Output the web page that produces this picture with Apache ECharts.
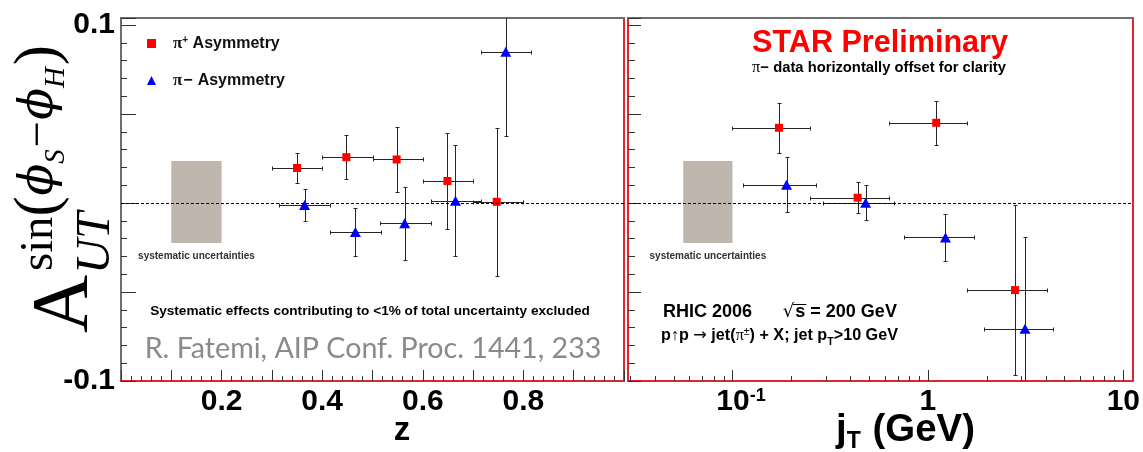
<!DOCTYPE html>
<html><head><meta charset="utf-8">
<script src="https://cdn.jsdelivr.net/npm/echarts@6/dist/echarts.min.js"></script>
<style>html,body{margin:0;padding:0;background:#fff}#c{width:1143px;height:452px}</style>
</head><body><div id="c"></div>
<script>
// ---------------- data ----------------
const zPlus    = [0.350, 0.448, 0.548, 0.649, 0.747];
const zPlusLo  = [0.300, 0.400, 0.500, 0.600, 0.700];
const zPlusHi  = [0.400, 0.500, 0.600, 0.700, 0.800];
const aPlusZ   = [0.0197, 0.0258, 0.0245, 0.0124, 0.0007];
const ePlusZ   = [0.0086, 0.0123, 0.0184, 0.0272, 0.0416];

const zMinus   = [0.365, 0.466, 0.564, 0.665, 0.765];
const zMinusLo = [0.315, 0.415, 0.515, 0.616, 0.715];
const zMinusHi = [0.415, 0.516, 0.616, 0.715, 0.815];
const aMinusZ  = [-0.0011, -0.0163, -0.0114, 0.0013, 0.0850];
const eMinusZ  = [0.0092, 0.0137, 0.0206, 0.0312, 0.0474];

const jPlus    = [0.173, 0.437, 1.103, 2.79];
const jPlusLo  = [0.099, 0.248, 0.631, 1.58];
const jPlusHi  = [0.248, 0.631, 1.59, 4.07];
const aPlusJ   = [0.0423, 0.0030, 0.0451, -0.0489];
const ePlusJ   = [0.0142, 0.0086, 0.0123, 0.0476];

const jMinus   = [0.189, 0.480, 1.23, 3.14];
const jMinusLo = [0.113, 0.290, 0.752, 1.94];
const jMinusHi = [0.266, 0.671, 1.72, 4.36];
const aMinusJ  = [0.0103, 0.0002, -0.0193, -0.0706];
const eMinusJ  = [0.0156, 0.0098, 0.0133, 0.0513];

const sysBoxZ = [0.1, 0.2];
const sysBoxJ = [0.056, 0.1];
const sysBoxA = [-0.0225, 0.0236];

const aRange  = [-0.1, 0.104];
const zRange  = [0, 1];
const jtRange = [0.0292, 11.15];
const aTickLabels = [-0.1, 0.1];
const zTickLabels = [0.2, 0.4, 0.6, 0.8];
const jtMajorTicks = [0.1, 1, 10];
const jtMinorTicks = [0.03,0.04,0.05,0.06,0.07,0.08,0.09,0.2,0.3,0.4,0.5,0.6,0.7,0.8,0.9,2,3,4,5,6,7,8,9];
const seriesNames = ['π+ Asymmetry', 'π− Asymmetry'];

// ---------------- helpers ----------------
const SANS = '"Liberation Sans", Arial, sans-serif';
const SERIF = '"Liberation Serif", "Times New Roman", serif';
const GSERIF = '"DejaVu Serif", "Liberation Serif", serif';
const mctx = document.createElement('canvas').getContext('2d');
function tw(str, size, fam, weight, style) {
  mctx.font = (style || 'normal') + ' ' + (weight || 'normal') + ' ' + size + 'px ' + fam;
  return mctx.measureText(str).width;
}
function fit(str, target, fam, weight, style) { return 100 * target / tw(str, 100, fam, weight, style); }
// lay out pieces along a baseline; returns children
function seq(pieces, x0, base, targetW, fill) {
  let sum = 0;
  pieces.forEach(p => { sum += (p.rs || 1) * tw(p.t, 1, p.fam || SANS, p.w || 'normal', p.it ? 'italic' : 'normal') + (p.gap || 0) / 100; });
  const F = targetW / sum;
  let x = x0; const out = [];
  pieces.forEach(p => {
    const s = (p.rs || 1) * F;
    const w = s * tw(p.t, 1, p.fam || SANS, p.w || 'normal', p.it ? 'italic' : 'normal');
    out.push({type: 'text', x: x, y: base + (p.dy || 0) * F - 0.34 * s, silent: true, _w: w, _s: s,
      style: {text: p.t, fontSize: s, fontFamily: p.fam || SANS, fontWeight: p.w || 'normal',
        fontStyle: p.it ? 'italic' : 'normal', fill: p.fill || fill || '#000', align: 'left', verticalAlign: 'middle'}});
    x += w + (p.gap || 0) * F / 100;
  });
  return out;
}
function zip(x, lo, hi, y, e) { return x.map((v, i) => [v, y[i], lo[i], hi[i], y[i] - e[i], y[i] + e[i]]); }
function errRender(params, api) {
  const x = api.value(0), y = api.value(1);
  const c = api.coord([x, y]);
  const l = api.coord([api.value(2), y]), r = api.coord([api.value(3), y]);
  const b = api.coord([x, api.value(4)]), t = api.coord([x, api.value(5)]);
  const cx = Math.round(c[0]) + 0.5, cy = Math.round(c[1]) + 0.5;
  const lx = Math.round(l[0]) + 0.5, rx = Math.round(r[0]) + 0.5;
  const ty = Math.round(t[1]) + 0.5, by = Math.round(b[1]) + 0.5;
  const st = {stroke: '#262626', lineWidth: 1};
  const k = 2;
  const L = (x1, y1, x2, y2) => ({type: 'line', shape: {x1, y1, x2, y2}, style: st});
  return {type: 'group', children: [
    L(lx, cy, rx, cy), L(cx, ty, cx, by),
    L(lx, cy - k, lx, cy + k), L(rx, cy - k, rx, cy + k),
    L(cx - k, ty, cx + k, ty), L(cx - k, by, cx + k, by)
  ]};
}
function tickRender(params, api) {
  const p = api.coord([api.value(0), aRange[0]]);
  const x = Math.round(p[0]) + 0.5, len = api.value(2);
  return {type: 'line', shape: {x1: x, y1: p[1], x2: x, y2: p[1] - len}, style: {stroke: '#333', lineWidth: 1}};
}
const near = (a, b) => Math.abs(a - b) < 1e-6 * Math.max(1, Math.abs(b));

const RED = '#e3262a', GRAY = '#6e6e6e';
const lblBig = {fontFamily: SANS, fontWeight: 'bold', fontSize: 30, color: '#000'};

const xAxes = [
  {gridIndex: 0, type: 'value', min: zRange[0], max: zRange[1], interval: 0.1, position: 'bottom',
   axisLine: {onZero: false, lineStyle: {color: RED, width: 2}},
   axisTick: {inside: true, length: 11, lineStyle: {color: '#333'}},
   splitLine: {show: false},
   axisLabel: Object.assign({margin: 6, formatter: v => zTickLabels.some(t => near(v, t)) ? String(+v.toFixed(1)) : ''}, lblBig)},
  {gridIndex: 0, type: 'value', min: zRange[0], max: zRange[1], interval: 0.02, position: 'bottom',
   axisLine: {show: false, onZero: false}, axisTick: {inside: true, length: 5, lineStyle: {color: '#333'}},
   splitLine: {show: false}, axisLabel: {show: false}},
  {gridIndex: 0, type: 'value', min: 0, max: 1, position: 'top',
   axisLine: {onZero: false, lineStyle: {color: GRAY, width: 2}}, axisTick: {show: false}, splitLine: {show: false}, axisLabel: {show: false}},
  {gridIndex: 1, type: 'log', logBase: 10, min: jtRange[0], max: jtRange[1], position: 'bottom',
   axisLine: {onZero: false, lineStyle: {color: RED, width: 2}}, axisTick: {show: false}, splitLine: {show: false}, minorTick: {show: false},
   axisLabel: {margin: 6, formatter: v => near(v, 0.1) ? '{pad|}{b|10}{s|-1}' : near(v, 1) ? '{b|1}' : near(v, 10) ? '{b|10}' : '',
     rich: {b: lblBig, s: {fontFamily: SANS, fontWeight: 'bold', fontSize: 18, verticalAlign: 'top', color: '#000'}, pad: {width: 17}}}},
  {gridIndex: 1, type: 'value', min: 0, max: 1, position: 'top',
   axisLine: {onZero: false, lineStyle: {color: GRAY, width: 2}}, axisTick: {show: false}, splitLine: {show: false}, axisLabel: {show: false}}
];
function yAx(grid, interval, len, opts) {
  return Object.assign({gridIndex: grid, type: 'value', min: aRange[0], max: aRange[1], interval: interval,
    axisLine: {show: false, onZero: false}, axisTick: {inside: true, length: len, lineStyle: {color: '#333'}},
    splitLine: {show: false}, axisLabel: {show: false}}, opts || {});
}
const yAxes = [
  yAx(0, 0.05, 15, {position: 'left', axisLine: {onZero: false, lineStyle: {color: GRAY, width: 2}},
    axisLabel: Object.assign({margin: 6, formatter: v => aTickLabels.some(t => near(v, t)) ? String(+v.toFixed(1)) : ''}, lblBig)}),
  yAx(0, 0.01, 6, {position: 'left'}),
  yAx(0, 0.05, 0, {position: 'right', axisTick: {show: false}, axisLine: {onZero: false, lineStyle: {color: RED, width: 2}}}),
  yAx(1, 0.05, 13, {position: 'left', axisLine: {onZero: false, lineStyle: {color: RED, width: 2}}}),
  yAx(1, 0.01, 7, {position: 'left'}),
  yAx(1, 0.05, 0, {position: 'right', axisTick: {show: false}, axisLine: {onZero: false, lineStyle: {color: RED, width: 2}}})
];

function panelSeries(xi, yi, box, pX, pLo, pHi, pY, pE, mX, mLo, mHi, mY, mE) {
  return [
    {type: 'scatter', xAxisIndex: xi, yAxisIndex: yi, data: [], z: 1, silent: true,
     markArea: {silent: true, itemStyle: {color: '#bfb6ad'},
       label: {show: true, position: 'bottom', distance: 8, formatter: 'systematic uncertainties',
         fontFamily: SANS, fontWeight: 'bold', fontSize: 10, color: '#333'},
       data: [[{xAxis: box[0], yAxis: sysBoxA[0]}, {xAxis: box[1], yAxis: sysBoxA[1]}]]}},
    {type: 'custom', xAxisIndex: xi, yAxisIndex: yi, z: 2, clip: true, silent: true,
     data: zip(pX, pLo, pHi, pY, pE), encode: {x: 0, y: 1}, renderItem: errRender,
     markLine: {silent: true, symbol: 'none', label: {show: false}, lineStyle: {color: '#000', width: 1, type: [3, 2]},
       data: [{yAxis: 0}]}},
    {type: 'custom', xAxisIndex: xi, yAxisIndex: yi, z: 2, clip: true, silent: true,
     data: zip(mX, mLo, mHi, mY, mE), encode: {x: 0, y: 1}, renderItem: errRender},
    {type: 'scatter', name: seriesNames[0], xAxisIndex: xi, yAxisIndex: yi, z: 4, symbol: 'rect', symbolSize: 8,
     itemStyle: {color: '#ff0000', opacity: 1}, data: pX.map((v, i) => [v, pY[i]])},
    {type: 'scatter', name: seriesNames[1], xAxisIndex: xi, yAxisIndex: yi, z: 4, symbol: 'triangle', symbolSize: [11, 10],
     itemStyle: {color: '#0000ff', opacity: 1}, data: mX.map((v, i) => [v, mY[i]])}
  ];
}
const series = [].concat(
  panelSeries(0, 0, sysBoxZ, zPlus, zPlusLo, zPlusHi, aPlusZ, ePlusZ, zMinus, zMinusLo, zMinusHi, aMinusZ, eMinusZ),
  panelSeries(3, 3, sysBoxJ, jPlus, jPlusLo, jPlusHi, aPlusJ, ePlusJ, jMinus, jMinusLo, jMinusHi, aMinusJ, eMinusJ),
  [{type: 'custom', xAxisIndex: 3, yAxisIndex: 3, z: 3, silent: true, encode: {x: 0, y: 1}, renderItem: tickRender,
    data: jtMajorTicks.map(v => [v, aRange[0], 11]).concat(jtMinorTicks.map(v => [v, aRange[0], 5]))}]
);

// ---------------- texts ----------------
const graphic = [];
const clean = arr => arr.map(e => { const o = Object.assign({}, e); delete o._w; delete o._s; return o; });
// y-axis title  A_UT^{sin(phi_S - phi_H)}
const titleKids = [].concat(
  seq([{t: 'A', fam: SERIF}], 0, 0, 58),
  seq([{t: 'UT', fam: SERIF, it: true}], 59, 20, 62),
  seq([{t: 'sin', fam: SERIF}, {t: '(', fam: SERIF, rs: 1.3, dy: 0.09, gap: 2},
       {t: 'ϕ', fam: GSERIF, it: true}, {t: 'S', fam: SERIF, it: true, rs: 0.62, dy: 0.22, gap: 4},
       {t: '−', fam: SERIF, gap: 3}, {t: 'ϕ', fam: GSERIF, it: true},
       {t: 'H', fam: SERIF, it: true, rs: 0.62, dy: 0.22, gap: 4}, {t: ')', fam: SERIF, rs: 1.3, dy: 0.09}], 62, -37, 226)
);
graphic.push({type: 'group', x: 93, y: 333, rotation: Math.PI / 2, children: clean(titleKids)});
// x-axis titles
graphic.push({type: 'text', x: 402, y: 431, silent: true, style: {text: 'z', fontFamily: SANS, fontWeight: 'bold', fontSize: 33, fill: '#000', align: 'center', verticalAlign: 'middle'}});
clean(seq([{t: 'j', w: 'bold'}, {t: 'T', w: 'bold', rs: 0.6, dy: 0.17, gap: 3}, {t: ' (GeV)', w: 'bold'}], 836, 443, 139)).forEach(e => graphic.push(e));
// STAR Preliminary
graphic.push({type: 'text', x: 880, y: 44, silent: true, style: {text: 'STAR Preliminary', fontFamily: SANS, fontWeight: 'bold',
  fontSize: fit('STAR Preliminary', 256, SANS, 'bold'), fill: '#ff0000', align: 'center', verticalAlign: 'middle'}});
clean(seq([{t: 'π', fam: SERIF, rs: 1.1}, {t: '−', w: 'bold', gap: 2}, {t: ' data horizontally offset for clarity', w: 'bold'}], 752, 73, 254)).forEach(e => graphic.push(e));
// notes
graphic.push({type: 'text', x: 370, y: 311, silent: true, style: {text: 'Systematic effects contributing to <1% of total uncertainty excluded',
  fontFamily: SANS, fontWeight: 'bold', fontSize: fit('Systematic effects contributing to <1% of total uncertainty excluded', 440, SANS, 'bold'), fill: '#000', align: 'center', verticalAlign: 'middle'}});
graphic.push({type: 'text', x: 373, y: 349, silent: true, style: {text: 'R. Fatemi, AIP Conf. Proc. 1441, 233',
  fontFamily: 'Lato, "Open Sans", sans-serif', fontSize: fit('R. Fatemi, AIP Conf. Proc. 1441, 233', 457, 'Lato', 'normal'), fill: '#8a8a8a', align: 'center', verticalAlign: 'middle'}});
const rhic = seq([{t: 'RHIC 2006', w: 'bold', gap: 170}, {t: '√', w: 'normal', fam: '"DejaVu Sans"', gap: 5}, {t: 's = 200 GeV', w: 'bold'}], 663, 318, 234);
{
  const sq = rhic[1], s = rhic[2];
  const sw = tw('s', s._s, SANS, 'bold');
  const yTop = Math.round(318 - 0.78 * s._s) + 0.5;
  graphic.push({type: 'line', silent: true, shape: {x1: sq.x + sq._w - 1.5, y1: yTop, x2: s.x + sw + 1, y2: yTop}, style: {stroke: '#000', lineWidth: 1}});
}
clean(rhic).forEach(e => graphic.push(e));
clean(seq([{t: 'p↑p ', w: 'bold'}, {t: '→', fam: '"DejaVu Sans"'}, {t: ' jet(', w: 'bold'}, {t: 'π', fam: SERIF},
     {t: '±', rs: 0.65, dy: -0.35}, {t: ') + X; jet p', w: 'bold'}, {t: 'T', w: 'bold', rs: 0.65, dy: 0.3}, {t: '>10 GeV', w: 'bold'}], 661, 341, 237)).forEach(e => graphic.push(e));

const option = {
  animation: false,
  backgroundColor: '#ffffff',
  grid: [
    {left: 121, top: 18, width: 503, height: 363, show: false},
    {left: 628, top: 18, width: 508, height: 363, show: false}
  ],
  xAxis: xAxes,
  yAxis: yAxes,
  legend: {
    orient: 'vertical', left: 142, top: 30, itemWidth: 9, itemHeight: 9, itemGap: 20, selectedMode: false,
    data: [{name: seriesNames[0], icon: 'rect'}, {name: seriesNames[1], icon: 'triangle'}],
    formatter: n => n === seriesNames[0] ? '{p|π}{sp|+}{t| Asymmetry}' : '{p|π}{mn|−}{t|Asymmetry}',
    textStyle: {fontFamily: SANS, fontWeight: 'bold', fontSize: 16, color: '#111',
      rich: {p: {fontFamily: SERIF, fontSize: 17, padding: [0, 0, 0, 12], color: '#111'},
             sp: {fontFamily: SANS, fontWeight: 'bold', fontSize: 10, verticalAlign: 'top', color: '#111'},
             mn: {fontFamily: SANS, fontWeight: 'bold', fontSize: 16, padding: [0, 5, 0, 1], color: '#111'},
             t: {fontFamily: SANS, fontWeight: 'bold', fontSize: 16, color: '#111'}}}
  },
  series: series,
  graphic: graphic
};
const chart = echarts.init(document.getElementById('c'), null, {renderer: 'canvas'});
chart.setOption(option);
</script>
</body></html>
